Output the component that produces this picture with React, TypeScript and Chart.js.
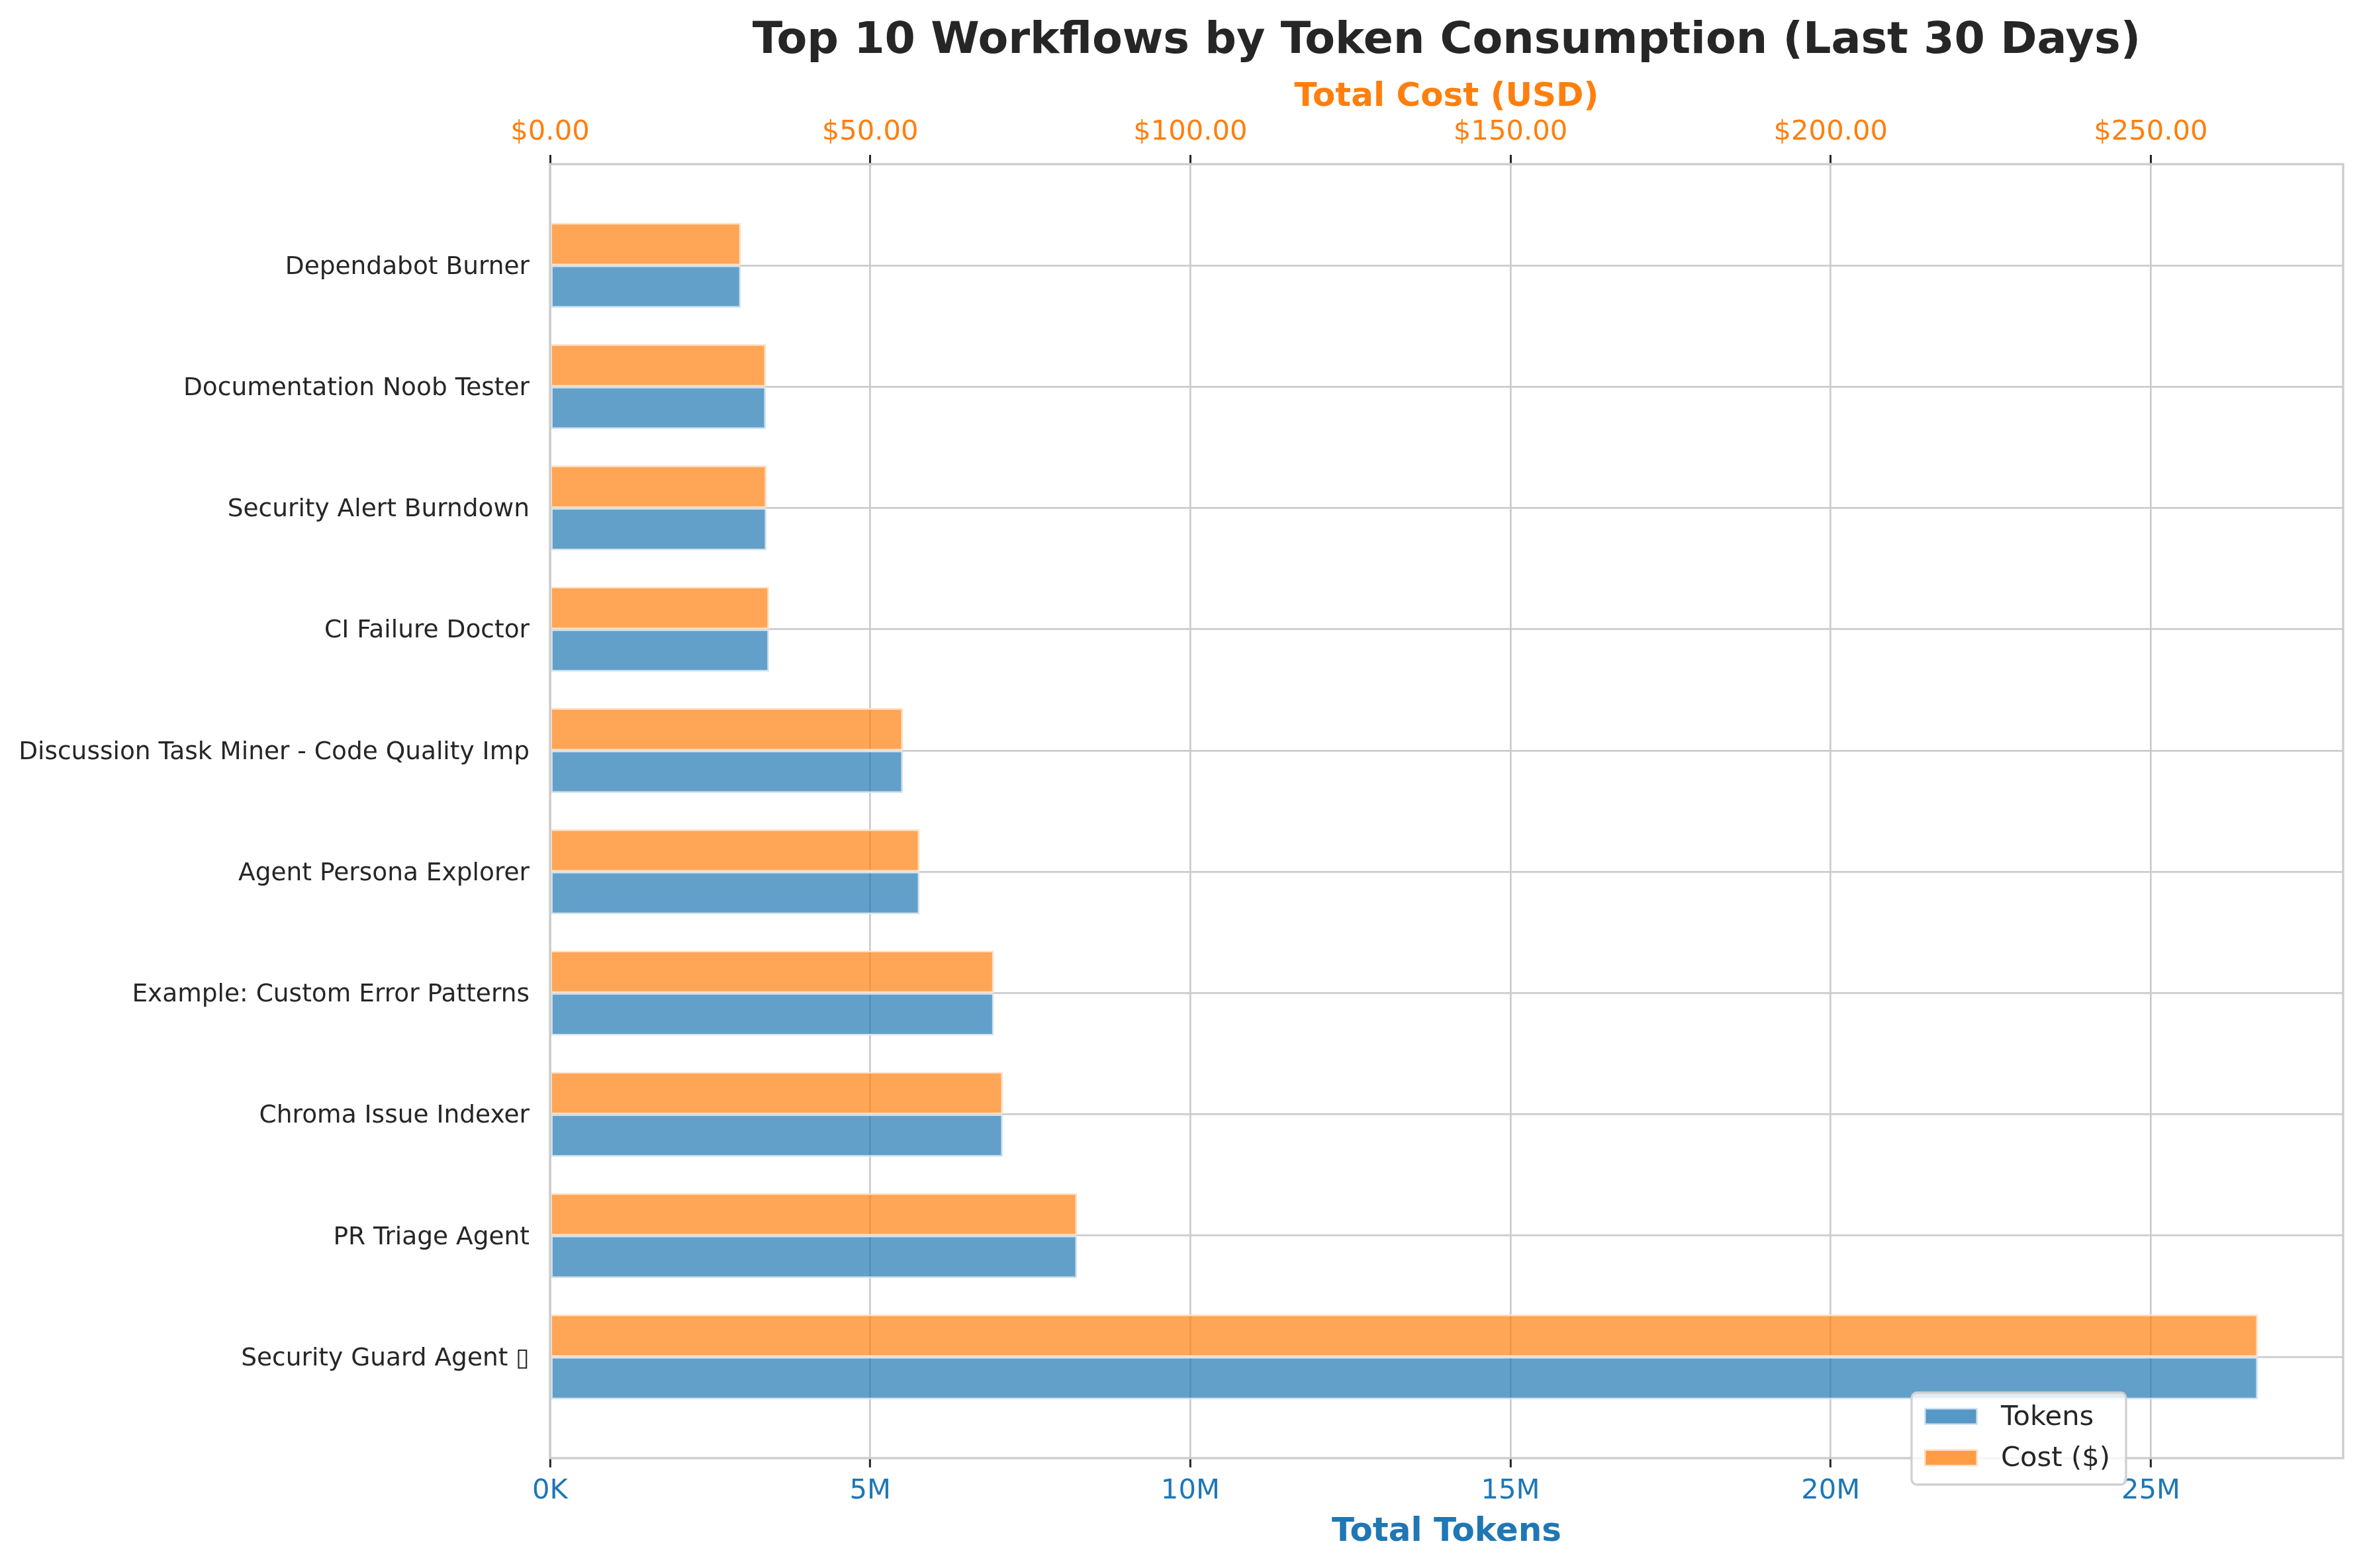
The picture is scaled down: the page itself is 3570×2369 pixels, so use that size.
import React, { useEffect, useRef } from "react";
import { Chart, registerables } from "chart.js";

Chart.register(...registerables);

// ---- Data ----
const workflows = [
  "Dependabot Burner",
  "Documentation Noob Tester",
  "Security Alert Burndown",
  "CI Failure Doctor",
  "Discussion Task Miner - Code Quality Imp",
  "Agent Persona Explorer",
  "Example: Custom Error Patterns",
  "Chroma Issue Indexer",
  "PR Triage Agent",
  "Security Guard Agent \u25AF",
];
const tokens = [2980000, 3370000, 3380000, 3420000, 5510000, 5770000, 6930000, 7070000, 8230000, 26670000];
const costs = [29.8, 33.7, 33.8, 34.2, 55.1, 57.7, 69.3, 70.7, 82.3, 266.7];
const seriesLabels = { tokens: "Tokens", cost: "Cost ($)" };
const titleText = "Top 10 Workflows by Token Consumption (Last 30 Days)";
const xTitle = "Total Tokens";
const x2Title = "Total Cost (USD)";
const tokenStepM = 5; // millions
const costStep = 50;

// ---- Styles ----
const FONT = "'DejaVu Sans', sans-serif";
const TEXT = "#262626";
const BLUE = "#1f77b4";
const ORANGE = "#ff7f0e";
const BLUE_FILL = "rgba(31,119,180,0.7)";
const ORANGE_FILL = "rgba(255,127,14,0.7)";
const BLUE_EDGE = "#d2e3f0";
const ORANGE_EDGE = "#ffe0c4";
const GRID = "#cccccc";

const tokensM = tokens.map((t) => t / 1e6);
const tokenMaxM = Math.max(...tokensM) * 1.05;
const costMax = Math.max(...costs) * 1.05;
const n = workflows.length;
const yPad = 0.35 + 0.05 * (n - 1 + 0.7);

function fmtTokens(v: number): string {
  if (v >= 1e6) return (v / 1e6).toFixed(0) + "M";
  return (v / 1e3).toFixed(0) + "K";
}

const decorations = {
  id: "decorations",
  afterDatasetsDraw(chart: any) {
    const { ctx, chartArea: a } = chart;
    ctx.save();
    ctx.strokeStyle = GRID;
    ctx.lineWidth = 3.3;
    ctx.strokeRect(a.left, a.top, a.right - a.left, a.bottom - a.top);
    ctx.restore();
  },
  afterDraw(chart: any) {
    const { ctx, chartArea: a } = chart;
    ctx.save();
    // Title
    ctx.font = `bold 66.7px ${FONT}`;
    ctx.fillStyle = TEXT;
    ctx.textAlign = "center";
    ctx.textBaseline = "middle";
    ctx.fillText(titleText, (a.left + a.right) / 2, 63);

    // Legend
    const items = [
      { label: seriesLabels.tokens, fill: BLUE_FILL, edge: BLUE_EDGE },
      { label: seriesLabels.cost, fill: ORANGE_FILL, edge: ORANGE_EDGE },
    ];
    ctx.font = `41.7px ${FONT}`;
    const maxW = Math.max(...items.map((it) => ctx.measureText(it.label).width));
    const boxLeft = a.right - 652;
    const boxTop = a.bottom - 99;
    const boxW = 135 + maxW + 24;
    const boxH = 139;
    ctx.beginPath();
    (ctx as any).roundRect(boxLeft, boxTop, boxW, boxH, 8);
    ctx.fillStyle = "rgba(255,255,255,0.8)";
    ctx.fill();
    ctx.strokeStyle = "#d0d0d0";
    ctx.lineWidth = 3.3;
    ctx.stroke();
    items.forEach((it, i) => {
      const cy = boxTop + 36 + i * 62.5;
      ctx.fillStyle = "#ffffff";
      ctx.fillRect(boxLeft + 19, cy - 13, 81, 26);
      ctx.fillStyle = it.edge;
      ctx.fillRect(boxLeft + 19, cy - 13, 81, 26);
      ctx.fillStyle = it.fill;
      ctx.fillRect(boxLeft + 21.5, cy - 10.5, 76, 21);
      ctx.fillStyle = TEXT;
      ctx.textAlign = "left";
      ctx.textBaseline = "middle";
      ctx.fillText(it.label, boxLeft + 135, cy + 2);
    });
    ctx.restore();
  },
};

export default function App() {
  const ref = useRef<HTMLCanvasElement>(null);

  useEffect(() => {
    Chart.defaults.font.family = FONT;
    const chart = new Chart(ref.current!, {
      type: "bar",
      data: {
        datasets: [
          {
            label: seriesLabels.cost,
            data: costs.map((c, i) => ({ x: c, y: i })),
            xAxisID: "x2",
            yAxisID: "y",
            backgroundColor: ORANGE_FILL,
            borderColor: ORANGE_EDGE,
            borderWidth: 2.5,
            borderSkipped: false,
            categoryPercentage: 0.7,
            barPercentage: 1,
          },
          {
            label: seriesLabels.tokens,
            data: tokensM.map((t, i) => ({ x: t, y: i })),
            xAxisID: "x",
            yAxisID: "y",
            backgroundColor: BLUE_FILL,
            borderColor: BLUE_EDGE,
            borderWidth: 2.5,
            borderSkipped: false,
            categoryPercentage: 0.7,
            barPercentage: 1,
          },
        ] as any,
      },
      options: {
        indexAxis: "y",
        animation: false,
        responsive: false,
        devicePixelRatio: 1,
        layout: { padding: { left: 0, right: 30, top: 0, bottom: 0 } },
        plugins: {
          legend: { display: false },
          tooltip: { enabled: false },
          title: { display: false },
        },
        scales: {
          x: {
            type: "linear",
            position: "bottom",
            min: 0,
            max: tokenMaxM,
            afterFit: (s: any) => {
              s.height = 166;
            },
            grid: {
              color: GRID,
              lineWidth: 2.7,
              drawTicks: true,
              tickLength: 14,
              tickColor: TEXT,
              tickWidth: 3,
            },
            border: { display: false },
            ticks: {
              stepSize: tokenStepM,
              includeBounds: false,
              autoSkip: false,
              maxRotation: 0,
              minRotation: 0,
              color: BLUE,
              font: { size: 41.7 },
              padding: 11,
              callback: (v: any) => fmtTokens(Number(v) * 1e6),
            },
            title: {
              display: true,
              text: xTitle,
              color: BLUE,
              font: { size: 50, weight: "bold" },
              padding: { top: 0, bottom: 23.5 },
            },
          },
          x2: {
            type: "linear",
            position: "top",
            min: 0,
            max: costMax,
            afterFit: (s: any) => {
              s.height = 248;
            },
            grid: {
              drawOnChartArea: false,
              drawTicks: true,
              tickLength: 14,
              tickColor: TEXT,
              tickWidth: 3,
            },
            border: { display: false },
            ticks: {
              stepSize: costStep,
              includeBounds: false,
              autoSkip: false,
              maxRotation: 0,
              minRotation: 0,
              color: ORANGE,
              font: { size: 41.7 },
              padding: 9,
              callback: (v: any) => "$" + Number(v).toFixed(2),
            },
            title: {
              display: true,
              text: x2Title,
              color: ORANGE,
              font: { size: 50, weight: "bold" },
              padding: { top: 117.5, bottom: 0 },
            },
          },
          y: {
            type: "linear",
            reverse: true,
            min: -yPad,
            max: n - 1 + yPad,
            offset: false,
            afterFit: (s: any) => {
              s.width = 831;
            },
            grid: {
              color: GRID,
              lineWidth: 2.7,
              drawTicks: false,
              offset: false,
            },
            border: { display: false },
            ticks: {
              stepSize: 1,
              includeBounds: false,
              autoSkip: false,
              padding: 31,
              labelOffset: 3,
              color: TEXT,
              font: { size: 37.5 },
              callback: (v: any) => {
                const i = Number(v);
                return Number.isInteger(i) && workflows[i] !== undefined ? workflows[i] : "";
              },
            },
          },
        },
      } as any,
      plugins: [decorations],
    });
    return () => chart.destroy();
  }, []);

  return (
    <div style={{ position: "fixed", left: 0, top: 0, width: 3570, height: 2369, background: "#ffffff" }}>
      <canvas ref={ref} width={3570} height={2369} style={{ display: "block", width: 3570, height: 2369 }} />
    </div>
  );
}
